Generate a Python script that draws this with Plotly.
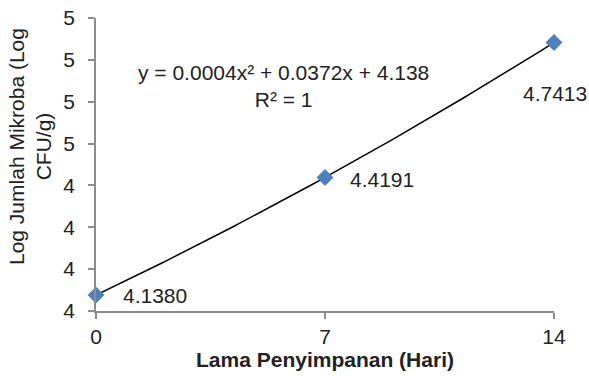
import numpy as np
import plotly.graph_objects as go

# Storage time (days) and microbial count (log CFU/g)
days = [0, 7, 14]
log_count = [4.1380, 4.4191, 4.7413]
label_text = ["4.1380", "4.4191", "4.7413"]

x_ticks = [0, 7, 14]
y_ticks = [4.1, 4.2, 4.3, 4.4, 4.5, 4.6, 4.7, 4.8]
y_tick_labels = ["4", "4", "4", "4", "5", "5", "5", "5"]

FONT = "Liberation Sans, Arial, sans-serif"
FS = 21
TXT = "#222222"

# Second-order polynomial trendline through the observations
coef = np.polyfit(days, log_count, 2)
xs = np.linspace(0, 14, 120)
ys = np.polyval(coef, xs)
ss_res = np.sum((np.array(log_count) - np.polyval(coef, days)) ** 2)
ss_tot = np.sum((np.array(log_count) - np.mean(log_count)) ** 2)
r2 = 1 - ss_res / ss_tot

fig = go.Figure()
fig.add_trace(go.Scatter(
    x=xs, y=ys, mode="lines",
    line=dict(color="black", width=1.5),
    hoverinfo="skip", showlegend=False, cliponaxis=False,
))
fig.add_trace(go.Scatter(
    x=days, y=log_count, mode="markers",
    marker=dict(symbol="diamond", size=13, color="#4F81BD"),
    showlegend=False, cliponaxis=False,
))

# Data labels placed next to each point
offsets = [(59, 0), (57, -2), (1, -51)]
for xv, yv, txt, (dx, dy) in zip(days, log_count, label_text, offsets):
    fig.add_annotation(
        x=xv, y=yv, text=txt, showarrow=False,
        xanchor="center", yanchor="middle",
        xshift=dx, yshift=dy,
        font=dict(family=FONT, size=FS, color=TXT),
    )

# Trendline equation
eq = (f"y = {coef[0]:.4f}x\u00b2 + {coef[1]:.4f}x + {coef[2]:.3f}"
      f"<br>R\u00b2 = {r2:.0f}")
fig.add_annotation(
    xref="paper", yref="paper", x=(283 - 96) / 458, y=(311 - 86) / 293,
    xanchor="center", yanchor="middle",
    text=eq, showarrow=False, align="center",
    font=dict(family=FONT, size=FS, color=TXT),
)

# Y-axis title
fig.add_annotation(
    xref="paper", yref="paper", x=(30 - 96) / 458, y=(311 - 147) / 293,
    xanchor="center", yanchor="middle",
    text="Log Jumlah Mikroba (Log<br>CFU/g)", textangle=-90,
    showarrow=False, align="center",
    font=dict(family=FONT, size=FS, color=TXT),
)

fig.update_layout(
    width=589, height=376,
    margin=dict(l=96, r=35, t=18, b=65),
    paper_bgcolor="white", plot_bgcolor="white",
    font=dict(family=FONT, size=FS, color=TXT),
    xaxis=dict(
        range=[0, 14], tickvals=x_ticks, ticktext=[str(v) for v in x_ticks],
        showgrid=False, zeroline=False, automargin=False,
        showline=True, linecolor="#8c8c8c", linewidth=1.5,
        ticks="outside", ticklen=6, tickcolor="#8c8c8c", tickwidth=1.5,
        ticklabelstandoff=0,
        tickfont=dict(family=FONT, size=FS, color=TXT),
        title=dict(text="<b>Lama Penyimpanan (Hari)</b>", standoff=5,
                   font=dict(family=FONT, size=FS, color=TXT)),
    ),
    yaxis=dict(
        range=[4.1, 4.8], tickvals=y_ticks, ticktext=y_tick_labels,
        showgrid=False, zeroline=False, automargin=False,
        showline=True, linecolor="#8c8c8c", linewidth=1.5,
        ticks="outside", ticklen=6, tickcolor="#8c8c8c", tickwidth=1.5,
        ticklabelstandoff=9,
        tickfont=dict(family=FONT, size=FS, color=TXT),
    ),
)

fig.write_html("out.html")
